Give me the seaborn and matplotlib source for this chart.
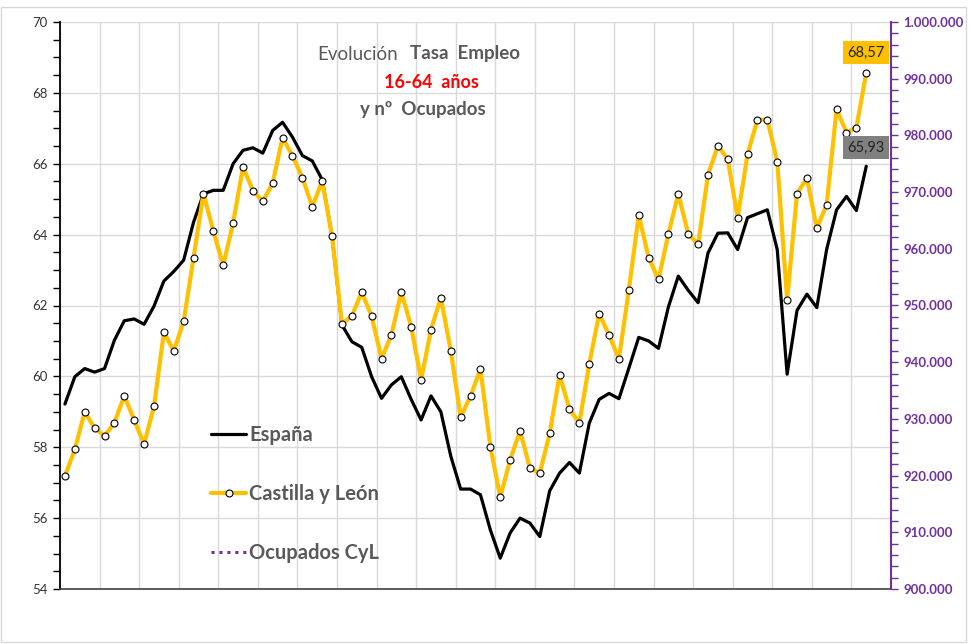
import numpy as np
import pandas as pd
import matplotlib
matplotlib.use("Agg")
import matplotlib.pyplot as plt
import seaborn as sns
from matplotlib.ticker import MultipleLocator, FixedLocator, FuncFormatter, NullFormatter
from matplotlib.lines import Line2D
from matplotlib.patches import Rectangle

# ---------------- data ----------------
quarters = [f"{y}T{q}" for y in range(2002, 2023) for q in range(1, 5)][:82]

espana = [59.22, 59.99, 60.22, 60.12, 60.22, 61.02, 61.57, 61.62, 61.47, 61.98,
          62.69, 62.96, 63.28, 64.35, 65.15, 65.25, 65.25, 66.00, 66.38, 66.45,
          66.30, 66.94, 67.17, 66.75, 66.23, 66.08, 65.55, 63.95, 61.45, 60.98,
          60.82, 59.99, 59.38, 59.76, 59.99, 59.35, 58.77, 59.45, 59.00, 57.75,
          56.82, 56.82, 56.66, 55.67, 54.87, 55.58, 56.00, 55.86, 55.48, 56.77,
          57.27, 57.57, 57.27, 58.68, 59.35, 59.52, 59.37, 60.23, 61.10, 61.00,
          60.79, 61.96, 62.83, 62.43, 62.08, 63.48, 64.04, 64.05, 63.58, 64.48,
          64.59, 64.70, 63.58, 60.06, 61.86, 62.32, 61.94, 63.59, 64.70, 65.08,
          64.68, 65.93]

cyl = [57.19, 57.94, 59.00, 58.54, 58.32, 58.69, 59.45, 58.77, 58.09, 59.15,
       61.24, 60.72, 61.55, 63.35, 65.16, 64.10, 63.13, 64.33, 65.91, 65.24,
       64.94, 65.46, 66.74, 66.22, 65.61, 64.78, 65.52, 63.95, 61.48, 61.70,
       62.38, 61.70, 60.50, 61.17, 62.38, 61.40, 59.90, 61.32, 62.22, 60.72,
       58.85, 59.45, 60.20, 58.02, 56.59, 57.64, 58.47, 57.41, 57.27, 58.39,
       60.04, 59.07, 58.69, 60.35, 61.77, 61.16, 60.50, 62.44, 64.55, 63.35,
       62.74, 64.02, 65.15, 64.02, 63.73, 65.68, 66.51, 66.12, 64.48, 66.27,
       67.24, 67.24, 66.06, 62.16, 65.15, 65.60, 64.18, 64.85, 67.54, 66.88,
       67.02, 68.57]

ocupados_cyl = []  # series present in legend only (no visible line)

left_ticks = [54, 56, 58, 60, 62, 64, 66, 68, 70]
right_ticks = list(range(900000, 1000001, 10000))

# ---------------- figure ----------------
sns.set_theme(style="white")
plt.rcParams["font.family"] = ["Lato", "DejaVu Sans"]

W, H = 969, 644
fig = plt.figure(figsize=(W / 100, H / 100), dpi=100)
ax = fig.add_axes([60 / W, 1 - 589 / H, 831 / W, 567 / H])

df = pd.DataFrame({"pos": np.arange(len(quarters)), "quarter": quarters,
                   "España": espana, "Castilla y León": cyl})

sns.lineplot(data=df, x="pos", y="España", ax=ax, color="black", lw=2.3,
             zorder=3, legend=False)
sns.lineplot(data=df, x="pos", y="Castilla y León", ax=ax, color="#FFC000", lw=3.0,
             marker="o", markersize=5, markerfacecolor="white",
             markeredgecolor="black", markeredgewidth=0.8, zorder=4, legend=False)

n_cat = 84
ax.set_xlim(-0.5, n_cat - 0.5)
ax.set_ylim(54, 70)
ax.set_xlabel("")
ax.set_ylabel("")

ax.xaxis.set_major_locator(FixedLocator(np.arange(-0.5, n_cat, 4)))
ax.xaxis.set_minor_locator(FixedLocator(np.arange(1.5, n_cat, 4)))
ax.xaxis.set_major_formatter(NullFormatter())
ax.yaxis.set_major_locator(FixedLocator(left_ticks))
ax.yaxis.set_minor_locator(MultipleLocator(0.5))
ax.set_yticklabels([str(t) for t in left_ticks])

ax.grid(True, which="major", color="#D9D9D9", lw=1.0)
ax.set_axisbelow(True)
ax.tick_params(axis="x", which="both", direction="out", length=5, width=1,
               color="#404040", labelbottom=False)
ax.tick_params(axis="y", which="both", direction="out", length=5, width=1,
               color="black", labelsize=9.5, labelcolor="#333333", pad=4)
for s in ["top", "right"]:
    ax.spines[s].set_visible(False)
ax.spines["left"].set_color("black")
ax.spines["left"].set_linewidth(1.3)
ax.spines["bottom"].set_color("#404040")
ax.spines["bottom"].set_linewidth(1.2)

# right axis
ax2 = ax.twinx()
ax2.plot(np.arange(len(ocupados_cyl)), ocupados_cyl, ls=(0, (1, 1.6)),
         color="#7030A0", lw=2.2, label="Ocupados CyL")
ax2.set_ylim(900000, 1000000)
ax2.yaxis.set_major_locator(FixedLocator(right_ticks))
ax2.yaxis.set_minor_locator(MultipleLocator(2000))
ax2.yaxis.set_major_formatter(FuncFormatter(lambda v, p: f"{int(round(v)):,}".replace(",", ".")))
ax2.tick_params(axis="y", which="both", direction="out", length=5, width=1,
                color="#7030A0", labelsize=9.5, labelcolor="#7030A0", pad=4)
for lab in ax2.get_yticklabels():
    lab.set_fontweight("bold")
for s in ["top", "left", "bottom"]:
    ax2.spines[s].set_visible(False)
ax2.spines["right"].set_color("#7030A0")
ax2.spines["right"].set_linewidth(1.5)
ax2.grid(False)

# legend
handles = [
    Line2D([], [], color="black", lw=2.3),
    Line2D([], [], color="#FFC000", lw=3.0, marker="o", markersize=5,
           markerfacecolor="white", markeredgecolor="black", markeredgewidth=0.8),
    Line2D([], [], color="#7030A0", lw=2.2, ls=(0, (1, 1.6))),
]
leg = ax2.legend(handles, ["España", "Castilla y León", "Ocupados CyL"],
                 loc="upper left", bbox_to_anchor=(0.160, 0.322), frameon=False,
                 handlelength=1.75, handletextpad=0.15, labelspacing=1.95,
                 prop={"family": ["Lato", "DejaVu Sans"], "weight": "bold", "size": 14.5})
for t in leg.get_texts():
    t.set_color("#595959")

# data labels
last = len(quarters) - 1
ax2.annotate(f"{cyl[last]:.2f}".replace(".", ","), xy=(last, cyl[last]), xycoords=ax.transData,
             xytext=(0, 14.5), textcoords="offset points", ha="center", va="center",
             fontsize=10.5, color="#222222",
             bbox=dict(boxstyle="square,pad=0.3", fc="#FFC000", ec="none"), zorder=10)
ax2.annotate(f"{espana[last]:.2f}".replace(".", ","), xy=(last, espana[last]), xycoords=ax.transData,
             xytext=(0, 13.5), textcoords="offset points", ha="center", va="center",
             fontsize=10.5, color="#222222",
             bbox=dict(boxstyle="square,pad=0.3", fc="#808080", ec="none"), zorder=10)

# title block
def fx(x):
    return x / W
def fy(y):
    return 1 - y / H

fig.text(fx(398), fy(54), "Evolución", ha="right", va="center", fontsize=13.5, color="#595959")
fig.text(fx(410), fy(54), "Tasa  Empleo", ha="left", va="center", fontsize=13.5,
         color="#595959", fontweight="bold")
fig.text(fx(431), fy(82), "16-64  años", ha="center", va="center", fontsize=13,
         color="#FF0000", fontweight="bold")
fig.text(fx(423), fy(110), "y nº  Ocupados", ha="center", va="center", fontsize=13.5,
         color="#595959", fontweight="bold")

# chart border
fig.patches.append(Rectangle((fx(1), fy(642)), fx(965), (642 - 7) / H, transform=fig.transFigure,
                             fill=False, ec="#D9D9D9", lw=1))

fig.savefig("out.png", dpi=100)
